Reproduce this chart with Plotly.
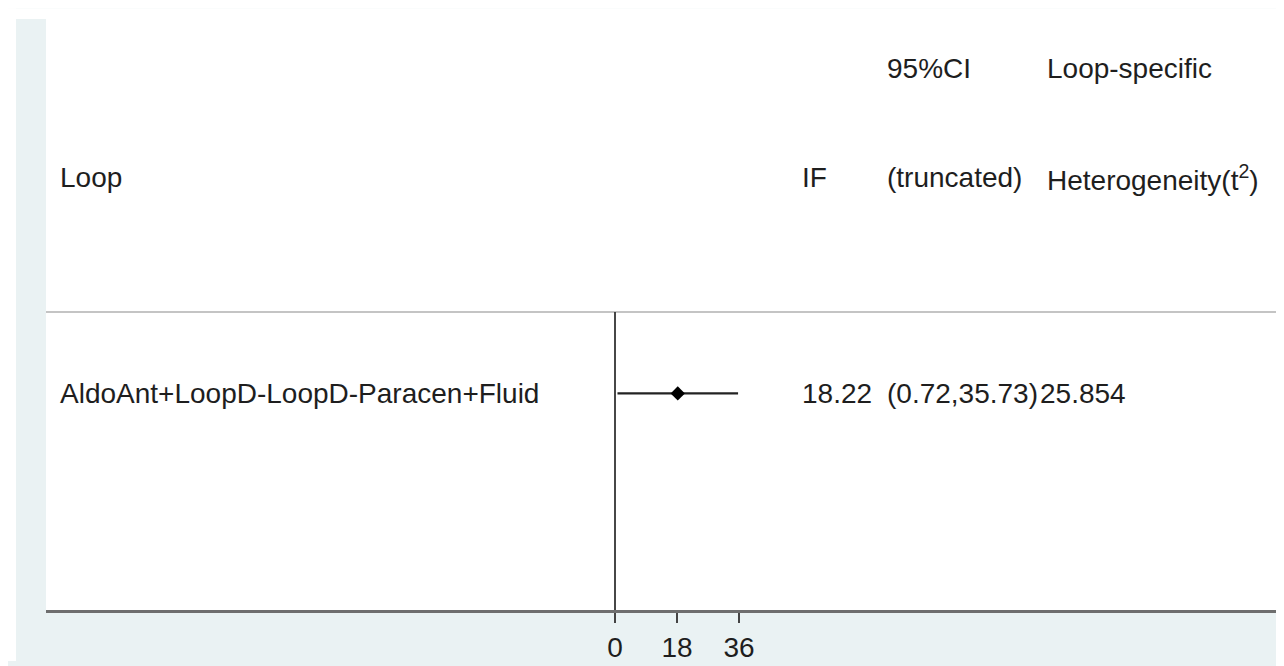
import plotly.graph_objects as go

# ---- data ----
loops = ["AldoAnt+LoopD-LoopD-Paracen+Fluid"]
if_vals = [18.22]
ci_low = [0.72]
ci_high = [35.73]
het_vals = [25.854]
tick_vals = [0, 18, 36]
tick_text = ["0", "18", "36"]
header_top = ["", "", "95%CI", "Loop-specific"]
header_bot = ["Loop", "IF", "(truncated)", "Heterogeneity(t<sup>2</sup>)"]

# ---- layout geometry (pixels) ----
W, H = 1284, 666
PL, PR, PT, PB = 38, 1269, 11, 614          # plot area edges
X0PX = 607                                  # pixel of x = 0
PX_PER_UNIT = 124 / 36.0
xr = [(PL - X0PX) / PX_PER_UNIT, (PR - X0PX) / PX_PER_UNIT]

ROW_PX = 393      # data row centre
UNIT_PX = 218     # pixels per y unit
yr = [1 - (PB - ROW_PX) / UNIT_PX, 1 + (ROW_PX - PT) / UNIT_PX]
sep_y = 1 + (ROW_PX - 310) / UNIT_PX
head1_y = 1 + (ROW_PX - 61) / UNIT_PX
head2_y = 1 + (ROW_PX - 173) / UNIT_PX


def px2x(px):
    return (px - PL) / (PR - PL)


def py2y(py):
    return (PB - py) / (PB - PT)


col_px = [50, 792, 877, 1037]
FONT = dict(family="Liberation Sans, Arial, sans-serif", size=28, color="#1e1e1e")

rows_y = [1 - i for i in range(len(loops))]

fig = go.Figure()
fig.add_trace(go.Scatter(
    x=if_vals, y=rows_y, mode="markers",
    marker=dict(symbol="diamond", size=11, color="#000000"),
    error_x=dict(type="data", symmetric=False,
                 array=[h - v for h, v in zip(ci_high, if_vals)],
                 arrayminus=[v - l for v, l in zip(if_vals, ci_low)],
                 width=0, thickness=2.2, color="#222222"),
    hoverinfo="skip", showlegend=False,
))

ann = []
for txt, px in zip(header_top, col_px):
    if txt:
        ann.append(dict(x=px2x(px), xref="paper", y=head1_y, yref="y", text=txt,
                        showarrow=False, xanchor="left", yanchor="middle", font=FONT))
for txt, px in zip(header_bot, col_px):
    ann.append(dict(x=px2x(px), xref="paper", y=head2_y, yref="y", text=txt,
                    showarrow=False, xanchor="left", yanchor="middle", font=FONT))
for lab, v, lo, hi, h, yy in zip(loops, if_vals, ci_low, ci_high, het_vals, rows_y):
    ann.append(dict(x=px2x(col_px[0]), xref="paper", y=yy, yref="y", text=lab,
                    showarrow=False, xanchor="left", yanchor="middle", font=FONT))
    ann.append(dict(x=px2x(col_px[1]), xref="paper", y=yy, yref="y", text=f"{v:.2f}",
                    showarrow=False, xanchor="left", yanchor="middle", font=FONT))
    ann.append(dict(x=px2x(col_px[2]), xref="paper", y=yy, yref="y",
                    text=f"({lo:.2f},{hi:.2f})",
                    showarrow=False, xanchor="left", yanchor="middle", font=FONT))
    ann.append(dict(x=px2x(1030), xref="paper", y=yy, yref="y", text=f"{h:.3f}",
                    showarrow=False, xanchor="left", yanchor="middle", font=FONT))

shapes = [
    # header separator
    dict(type="line", xref="paper", x0=0, x1=1, yref="y", y0=sep_y, y1=sep_y,
         line=dict(color="#c4c4c4", width=2)),
    # reference line at 0
    dict(type="line", xref="x", x0=0, x1=0, yref="y", y0=sep_y, y1=yr[0],
         line=dict(color="#333333", width=1.8)),
    # white corners outside the framed region
    dict(type="rect", xref="paper", x0=px2x(0), x1=px2x(W), yref="paper",
         y0=py2y(PT), y1=py2y(0), fillcolor="white", line=dict(width=0), layer="below"),
    dict(type="rect", xref="paper", x0=px2x(0), x1=px2x(8), yref="paper",
         y0=py2y(H), y1=py2y(0), fillcolor="white", line=dict(width=0), layer="below"),
]

fig.update_layout(
    width=W, height=H,
    margin=dict(l=PL, r=W - PR, t=PT, b=H - PB, pad=0),
    paper_bgcolor="#eaf2f3", plot_bgcolor="white",
    annotations=ann, shapes=shapes, showlegend=False,
    xaxis=dict(range=xr, tickmode="array", tickvals=tick_vals, ticktext=tick_text,
               showgrid=False, zeroline=False, showline=True, linecolor="#6e6e6e",
               linewidth=3, ticks="outside", ticklen=10, tickwidth=1.6, tickcolor="#444444",
               tickfont=FONT, fixedrange=True),
    yaxis=dict(range=yr, showgrid=False, zeroline=False, showticklabels=False,
               showline=False, fixedrange=True),
)

fig.write_html("out.html")
